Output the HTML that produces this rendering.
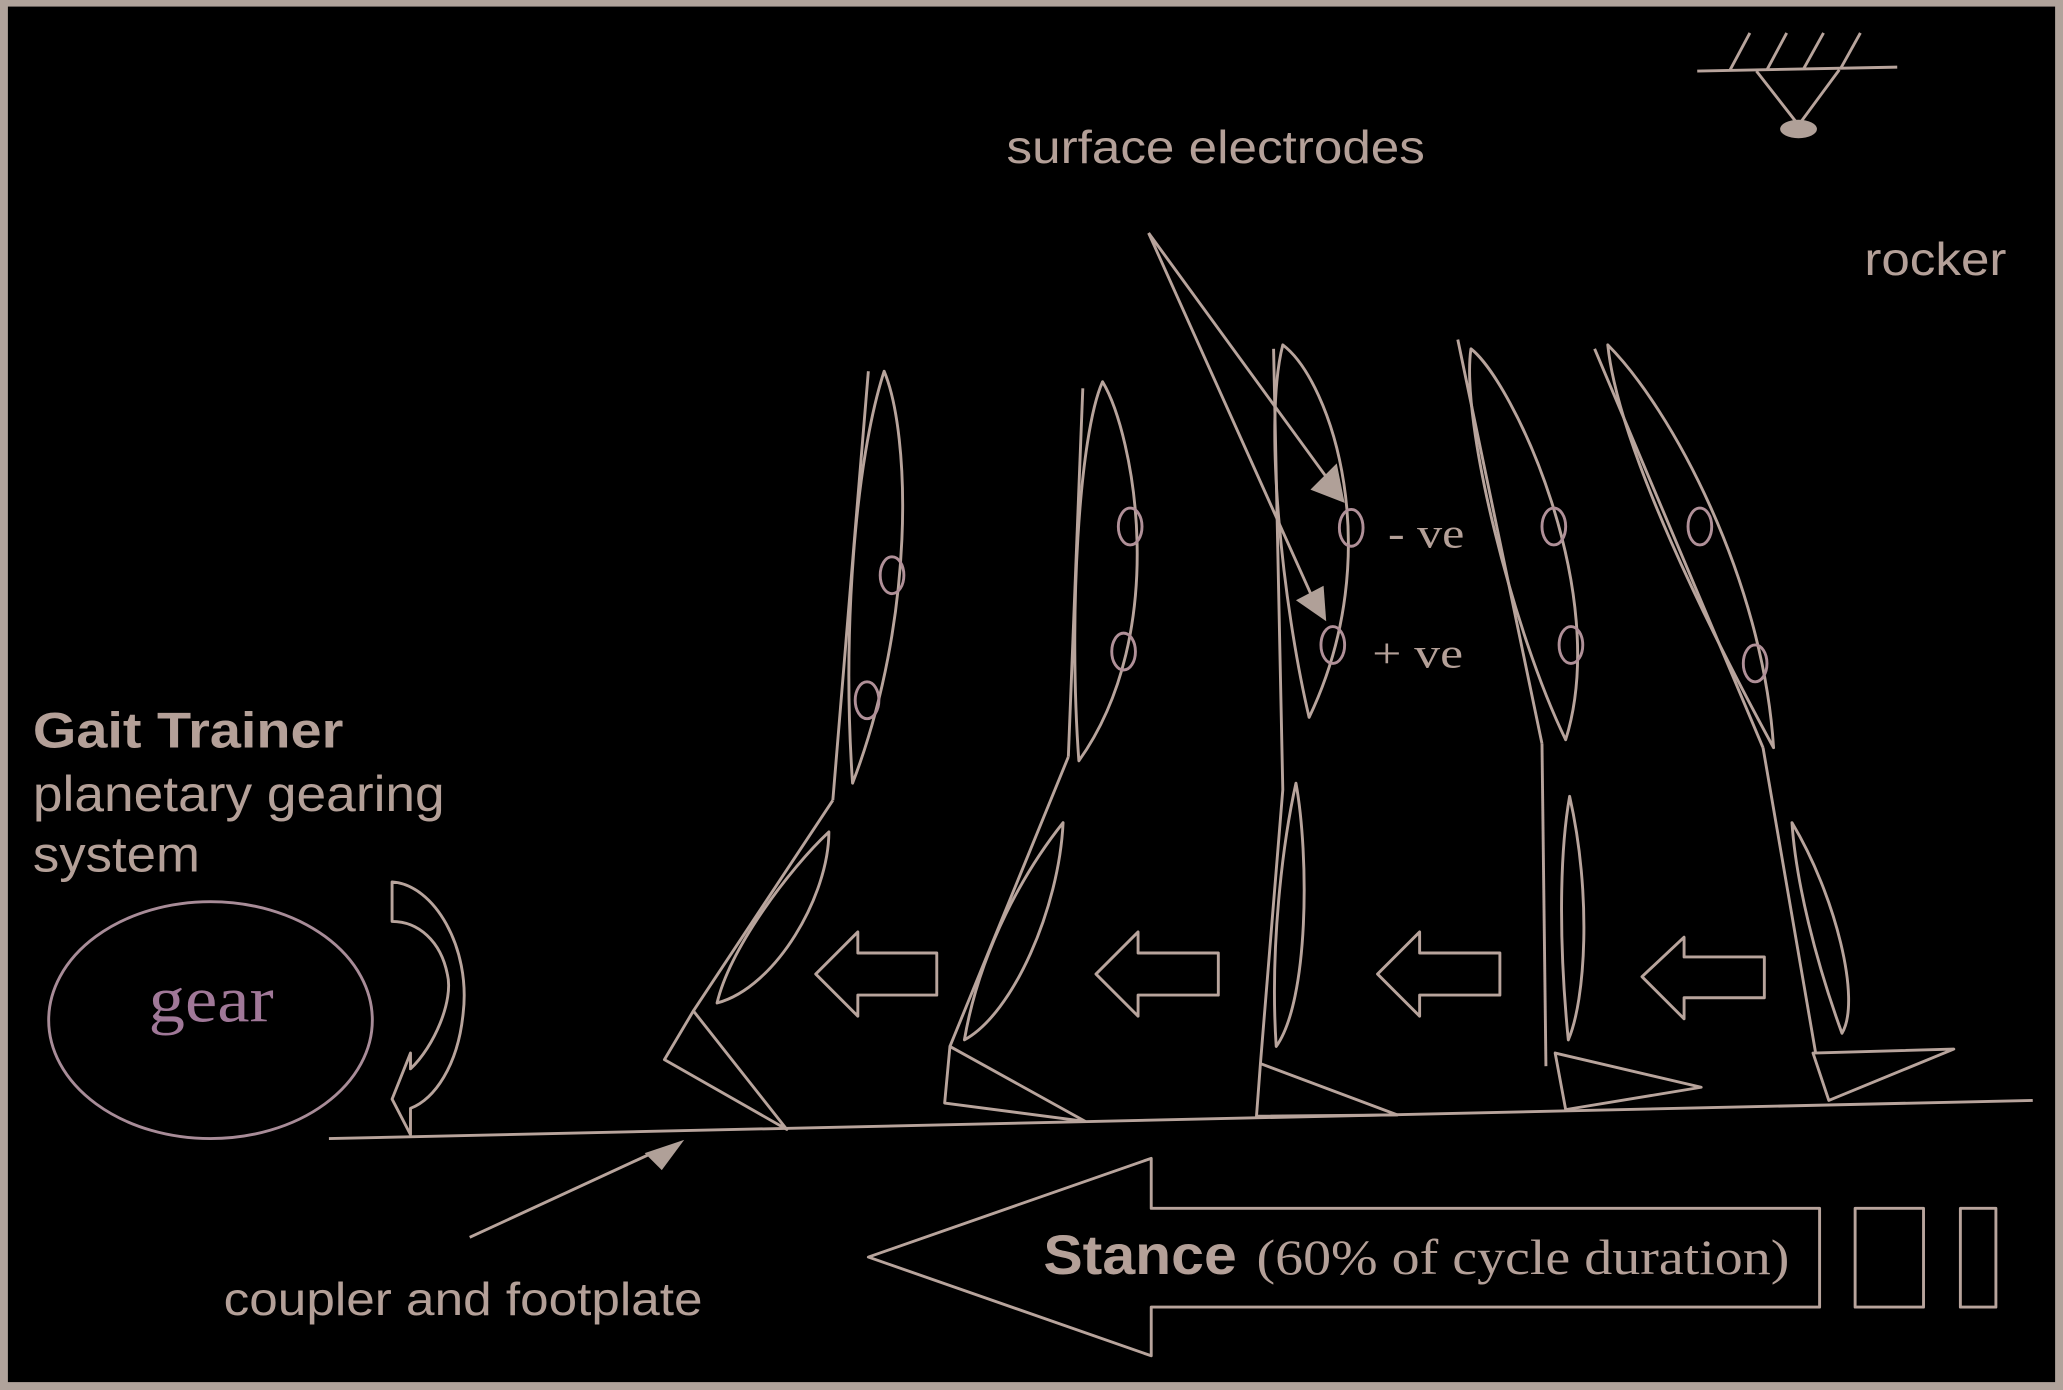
<!DOCTYPE html>
<html><head><meta charset="utf-8"><style>
html,body{margin:0;padding:0;background:#000;}
svg{display:block;}
text{fill:#b4a098;}
.s{font-family:"Liberation Sans",sans-serif;}
.r{font-family:"Liberation Serif",serif;}
</style></head><body>
<svg width="2063" height="1390" viewBox="0 0 1568 1056" preserveAspectRatio="none" xmlns="http://www.w3.org/2000/svg">
<rect x="0" y="0" width="1568" height="1056" fill="#b0a39b"/>
<rect x="6" y="5" width="1556" height="1045" fill="#000"/>
<g fill="none" stroke="#b8a49c" stroke-width="2.2" stroke-linejoin="round">
<line x1="250" y1="865" x2="1545" y2="836"/>
<line x1="660" y1="282" x2="633" y2="608"/>
<path d="M672,282 C692,330 696,470 648,595 C640,480 650,350 672,282Z"/>
<line x1="633" y1="608" x2="527" y2="768"/>
<path d="M630,632 C630,680 590,750 545,762 C555,720 600,660 630,632Z"/>
<path d="M527,768 L505,805 L598,858 Z"/>
<line x1="823" y1="295" x2="812" y2="575"/>
<path d="M838,290 C862,330 890,480 820,578 C812,470 820,330 838,290Z"/>
<line x1="812" y1="575" x2="722" y2="795"/>
<path d="M808,625 C805,690 770,770 733,790 C745,720 780,660 808,625Z"/>
<path d="M722,795 L718,838 L825,852 Z"/>
<path d="M968,265 L975,600 L958,808"/>
<path d="M975,262 C1012,290 1055,420 995,545 C975,460 960,320 975,262Z"/>
<path d="M985,595 C995,650 995,760 970,795 C965,720 975,640 985,595Z"/>
<path d="M958,808 L955,848 L1062,847 Z"/>
<line x1="1108" y1="258" x2="1172" y2="565"/>
<path d="M1118,265 C1150,290 1225,450 1190,562 C1150,480 1110,320 1118,265Z"/>
<line x1="1172" y1="565" x2="1175" y2="810"/>
<path d="M1193,605 C1210,680 1205,760 1192,790 C1185,720 1185,650 1193,605Z"/>
<path d="M1182,800 L1190,843 L1293,826 Z"/>
<line x1="1212" y1="265" x2="1340" y2="568"/>
<path d="M1222,262 C1270,310 1340,440 1348,568 C1300,480 1230,340 1222,262Z"/>
<line x1="1340" y1="568" x2="1380" y2="800"/>
<path d="M1362,625 C1395,680 1415,760 1400,785 C1380,730 1365,670 1362,625Z"/>
<path d="M1378,800 L1390,836 L1485,797 Z"/>
<polygon points="620,740 652,708 652,724 712,724 712,756 652,756 652,772"/>
<polygon points="833,740 865,708 865,724 926,724 926,756 865,756 865,772"/>
<polygon points="1047,740 1079,708 1079,724 1140,724 1140,756 1079,756 1079,772"/>
<polygon points="1248,742 1280,712 1280,727 1341,727 1341,758 1280,758 1280,774"/>
<polygon points="660,955 875,880 875,918 1383,918 1383,993 875,993 875,1030"/>
<rect x="1410" y="918" width="52" height="75"/>
<rect x="1490" y="918" width="27" height="75"/>
<path d="M298,670 C330,672 358,720 352,770 C348,810 330,835 312,842 L312,862 L298,835 L312,800 L312,812 C330,795 345,760 340,740 C335,715 318,700 298,700 Z"/>
<ellipse cx="160" cy="775" rx="123" ry="90" stroke="#a88c98"/>
<line x1="873" y1="177" x2="1010" y2="365"/>
<line x1="873" y1="177" x2="998" y2="455"/>
<line x1="357" y1="940" x2="500" y2="874"/>
<line x1="1290" y1="54" x2="1442" y2="51"/>
<line x1="1315" y1="53" x2="1330" y2="25"/>
<line x1="1343" y1="53" x2="1358" y2="25"/>
<line x1="1371" y1="52" x2="1386" y2="25"/>
<line x1="1399" y1="52" x2="1414" y2="25"/>
<polyline points="1335,54 1367,95 1398,53"/>
</g>
<g fill="#b0a098">
<polygon points="1022,382 996,372 1016,352"/>
<polygon points="1008,472 985,456 1006,445"/>
<polygon points="520,866 490,876 503,889"/>
<ellipse cx="1367" cy="98" rx="14" ry="7"/>
</g>
<g fill="none" stroke="#b09098" stroke-width="2.2">
<ellipse cx="678" cy="437" rx="9" ry="14"/>
<ellipse cx="659" cy="532" rx="9" ry="14"/>
<ellipse cx="859" cy="400" rx="9" ry="14"/>
<ellipse cx="854" cy="495" rx="9" ry="14"/>
<ellipse cx="1027" cy="401" rx="9" ry="14"/>
<ellipse cx="1013" cy="490" rx="9" ry="14"/>
<ellipse cx="1181" cy="400" rx="9" ry="14"/>
<ellipse cx="1194" cy="490" rx="9" ry="14"/>
<ellipse cx="1292" cy="400" rx="9" ry="14"/>
<ellipse cx="1334" cy="504" rx="9" ry="14"/>
</g>
<text class="s" x="765" y="124" font-size="35" textLength="318" lengthAdjust="spacingAndGlyphs">surface electrodes</text>
<text class="s" x="1417" y="209" font-size="35" textLength="108" lengthAdjust="spacingAndGlyphs">rocker</text>
<text class="s" x="25" y="568" font-size="38" font-weight="bold" textLength="236" lengthAdjust="spacingAndGlyphs">Gait Trainer</text>
<text class="s" x="25" y="616" font-size="38" textLength="313" lengthAdjust="spacingAndGlyphs">planetary gearing</text>
<text class="s" x="25" y="662" font-size="38" textLength="127" lengthAdjust="spacingAndGlyphs">system</text>
<text class="r" x="113" y="776" font-size="50" style="fill:#a07898" textLength="95" lengthAdjust="spacingAndGlyphs">gear</text>
<text class="r" x="1055" y="416" font-size="32" textLength="58" lengthAdjust="spacingAndGlyphs">- ve</text>
<text class="r" x="1043" y="507" font-size="32" textLength="69" lengthAdjust="spacingAndGlyphs">+ ve</text>
<text class="s" x="170" y="999" font-size="35" textLength="364" lengthAdjust="spacingAndGlyphs">coupler and footplate</text>
<text class="s" x="793" y="968" font-size="42" font-weight="bold" textLength="147" lengthAdjust="spacingAndGlyphs">Stance</text>
<text class="r" x="955" y="968" font-size="38" textLength="405" lengthAdjust="spacingAndGlyphs">(60% of cycle duration)</text>
</svg>
</body></html>
